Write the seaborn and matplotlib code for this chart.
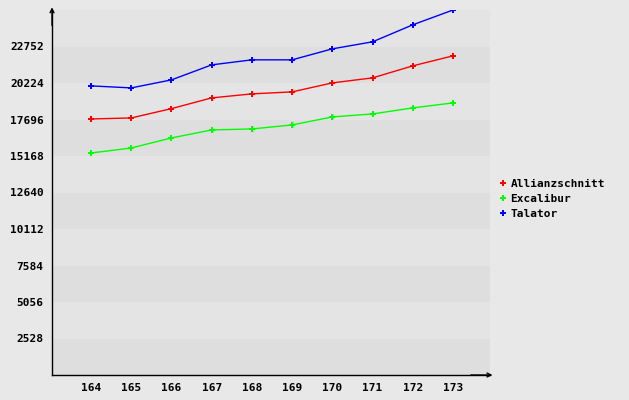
import numpy as np
import pandas as pd
import matplotlib
matplotlib.use('Agg')
import matplotlib.pyplot as plt
import seaborn as sns
from matplotlib.lines import Line2D

# daten
tage = [164, 165, 166, 167, 168, 169, 170, 171, 172, 173]
allianzschnitt = [17734, 17804, 18450, 19193, 19470, 19609, 20232, 20579, 21412, 22105]
excalibur = [15377, 15724, 16418, 16973, 17042, 17320, 17874, 18082, 18499, 18846]
talator = [20024, 19885, 20440, 21480, 21828, 21828, 22590, 23076, 24255, 25280]
y_ticks = [2528, 5056, 7584, 10112, 12640, 15168, 17696, 20224, 22752]

namen = ['Allianzschnitt', 'Excalibur', 'Talator']
farben = ['#ff0000', '#00ff00', '#0000ff']

df = pd.DataFrame({
    'tag': tage * 3,
    'wert': allianzschnitt + excalibur + talator,
    'name': [n for n in namen for _ in tage],
})

sns.set_style('white')
plt.rcParams['font.family'] = ['DejaVu Sans Mono']
plt.rcParams['font.weight'] = 'bold'
plt.rcParams['text.color'] = 'black'
plt.rcParams['xtick.color'] = 'black'
plt.rcParams['ytick.color'] = 'black'

fig = plt.figure(figsize=(6.29, 4.0), dpi=100, facecolor='#e8e8e8')
ax = fig.add_axes([52 / 629, 25 / 400, 438 / 629, 365 / 400])
ax.set_facecolor('#e8e8e8')

# bänder
grenzen = [0] + y_ticks + [25280]
for i in range(len(grenzen) - 1):
    col = '#dedede' if i % 2 == 0 else '#e4e4e4'
    ax.axhspan(grenzen[i], grenzen[i + 1], color=col, lw=0, zorder=0)

sns.lineplot(data=df, x='tag', y='wert', hue='name', palette=farben,
             marker='P', markersize=4, markeredgewidth=0, linewidth=1,
             ax=ax, legend=False, zorder=3)

ax.set_xlim(163.03, 173.92)
ax.set_ylim(0, 25280)
ax.set_xticks(tage)
ax.set_yticks(y_ticks)
ax.set_xlabel('')
ax.set_ylabel('')
ax.tick_params(axis='both', labelsize=8, length=3, width=0.8, color='black',
               labelcolor='black', pad=3)
for lab in ax.get_xticklabels() + ax.get_yticklabels():
    lab.set_fontweight('bold')

for s in ['top', 'right']:
    ax.spines[s].set_visible(False)
for s in ['left', 'bottom']:
    ax.spines[s].set_color('black')
    ax.spines[s].set_linewidth(1)

# pfeile an den achsen
ax.annotate('', xy=(0, 1.015), xytext=(0, 0.95), xycoords='axes fraction',
            arrowprops=dict(arrowstyle='->', color='black', lw=1, mutation_scale=7))
ax.annotate('', xy=(1.012, 0), xytext=(0.95, 0), xycoords='axes fraction',
            arrowprops=dict(arrowstyle='->', color='black', lw=1, mutation_scale=7))

handles = [Line2D([], [], color=c, marker='P', markersize=4, markeredgewidth=0, linestyle='none')
           for c in farben]
fig.legend(handles, namen, loc='center left', bbox_to_anchor=(490 / 629, 1 - 199 / 400),
           frameon=False, handlelength=0.6, handletextpad=0.35,
           labelspacing=0.45, prop={'weight': 'bold', 'size': 8}, labelcolor='black')

fig.savefig('out.png', dpi=100, facecolor=fig.get_facecolor())
